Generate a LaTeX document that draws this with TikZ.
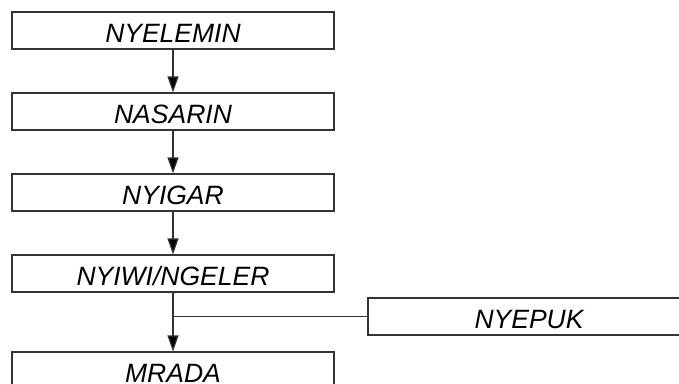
\documentclass[tikz,border=0pt]{standalone}
\usepackage{fontspec}
\setmainfont{Liberation Sans}
\usetikzlibrary{positioning,arrows.meta}

\tikzset{
  stage/.style={draw=black!80, line width=1.2pt, minimum width=322pt, minimum height=37pt,
    inner sep=0pt, font=\fontsize{26.5pt}{26.5pt}\selectfont\itshape,
    text height=23pt, text depth=0pt},
  flow/.style={draw=black!80, line width=1.2pt, -{Triangle[length=16pt,width=11pt]}}
}

\begin{document}
\begin{tikzpicture}[node distance=81pt, on grid]
  \clip (0pt,0pt) rectangle (679pt,-383pt);

  \node[stage] (nyelemin) at (173pt,-30.5pt) {NYELEMIN};
  \node[stage] (nasarin) [below=of nyelemin] {NASARIN};
  \node[stage] (nyigar) [below=of nasarin] {NYIGAR};
  \node[stage] (nyiwi) [below=of nyigar] {NYIWI/NGELER};
  \node[stage] (mrada) [below=97pt of nyiwi] {MRADA};
  \node[stage] (nyepuk) [below right=43pt and 356pt of nyiwi] {NYEPUK};

  \path[flow]
    (nyelemin) edge (nasarin)
    (nasarin) edge (nyigar)
    (nyigar) edge (nyiwi)
    (nyiwi) edge (mrada);

  \draw[draw=black!80, line width=1.2pt] (nyepuk.west) -- (nyepuk.west -| nyiwi.south);
\end{tikzpicture}
\end{document}
